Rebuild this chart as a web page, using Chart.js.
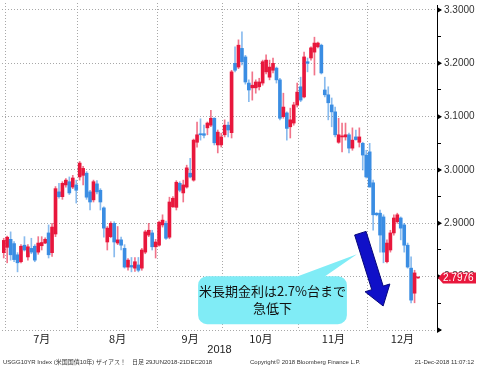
<!DOCTYPE html>
<html lang="ja">
<head>
<meta charset="utf-8">
<title>USGG10YR</title>
<script src="https://cdn.jsdelivr.net/npm/chart.js@4.4.1/dist/chart.umd.min.js"></script>
<style>
  html, body { margin: 0; padding: 0; background: #fff; overflow: hidden; }
  canvas { display: block; }
</style>
</head>
<body>
<canvas id="chart" width="477" height="368"></canvas>
<script>
'use strict';

// trading days on the axis, 29 Jun - 31 Dec 2018 (US holidays left out)
var junDays = [29];
var julDays = [2, 3, 5, 6, 9, 10, 11, 12, 13, 16, 17, 18, 19, 20, 23, 24, 25, 26, 27, 30, 31];
var augDays = [1, 2, 3, 6, 7, 8, 9, 10, 13, 14, 15, 16, 17, 20, 21, 22, 23, 24, 27, 28, 29, 30, 31];
var sepDays = [4, 5, 6, 7, 10, 11, 12, 13, 14, 17, 18, 19, 20, 21, 24, 25, 26, 27, 28];
var octDays = [1, 2, 3, 4, 5, 9, 10, 11, 12, 15, 16, 17, 18, 19, 22, 23, 24, 25, 26, 29, 30, 31];
var novDays = [1, 2, 5, 6, 7, 8, 9, 13, 14, 15, 16, 19, 20, 21, 23, 26, 27, 28, 29, 30];
var decDays = [3, 4, 5, 6, 7, 10, 11, 12, 13, 14, 17, 18, 19, 20, 21, 24, 26, 27, 28, 31];
var monthNames = ['7月', '8月', '9月', '10月', '11月', '12月'];

// daily OHLC, 29 Jun .. 21 Dec
var opens = [
  2.845,
  2.855, 2.870, 2.862, 2.841, 2.828, 2.859, 2.837, 2.853, 2.857, 2.846, 2.858, 2.863, 2.882, 2.845, 2.880, 2.959, 2.950, 2.972, 2.978, 2.968, 2.972,
  2.987, 2.990, 2.994, 2.959, 2.944, 2.974, 2.962, 2.929, 2.865, 2.875, 2.900, 2.863, 2.869, 2.853, 2.818, 2.821, 2.816, 2.822, 2.816, 2.846, 2.878, 2.882, 2.856,
  2.859, 2.897, 2.900, 2.874, 2.931, 2.930, 2.975, 2.957, 2.968, 2.994, 2.981, 3.052, 3.068, 3.068, 3.079, 3.084, 3.097, 3.047, 3.047,
  3.066, 3.084, 3.070, 3.200, 3.193, 3.228, 3.212, 3.163, 3.154, 3.154, 3.156, 3.163, 3.184, 3.174, 3.187, 3.191, 3.169, 3.100, 3.107, 3.081, 3.088, 3.122,
  3.156, 3.137, 3.203, 3.210, 3.221, 3.231, 3.234, 3.150, 3.141, 3.122, 3.109, 3.052, 3.062, 3.062, 3.066, 3.041, 3.062, 3.052, 3.050, 3.028,
  3.034, 2.976, 2.919, 2.919, 2.912, 2.828, 2.850, 2.882, 2.903, 2.910, 2.897, 2.859, 2.816, 2.769, 2.7976
];
var highs = [
  2.872,
  2.876, 2.884, 2.866, 2.845, 2.860, 2.875, 2.860, 2.872, 2.860, 2.875, 2.875, 2.873, 2.897, 2.900, 2.969, 2.975, 2.978, 2.984, 2.987, 2.990, 2.981,
  3.016, 3.007, 2.997, 2.962, 2.981, 2.980, 2.965, 2.931, 2.894, 2.903, 2.903, 2.894, 2.874, 2.860, 2.834, 2.836, 2.836, 2.836, 2.853, 2.887, 2.900, 2.887, 2.870,
  2.904, 2.916, 2.904, 2.949, 2.950, 2.980, 2.978, 2.981, 3.009, 3.022, 3.058, 3.090, 3.096, 3.084, 3.090, 3.112, 3.098, 3.075, 3.069,
  3.094, 3.090, 3.187, 3.231, 3.244, 3.259, 3.215, 3.169, 3.184, 3.169, 3.172, 3.206, 3.216, 3.206, 3.210, 3.193, 3.172, 3.144, 3.109, 3.116, 3.127, 3.163,
  3.174, 3.221, 3.210, 3.231, 3.249, 3.240, 3.236, 3.174, 3.156, 3.135, 3.118, 3.097, 3.088, 3.088, 3.069, 3.079, 3.075, 3.079, 3.052, 3.037,
  3.050, 2.981, 2.920, 2.925, 2.916, 2.869, 2.887, 2.916, 2.919, 2.912, 2.900, 2.863, 2.837, 2.812, 2.7990
];
var lows = [
  2.835,
  2.826, 2.831, 2.828, 2.809, 2.826, 2.848, 2.831, 2.843, 2.828, 2.842, 2.850, 2.862, 2.835, 2.838, 2.875, 2.947, 2.945, 2.968, 2.954, 2.965, 2.938,
  2.981, 2.972, 2.945, 2.925, 2.940, 2.955, 2.925, 2.874, 2.850, 2.873, 2.837, 2.860, 2.850, 2.816, 2.812, 2.809, 2.810, 2.809, 2.812, 2.843, 2.875, 2.850, 2.835,
  2.857, 2.893, 2.870, 2.871, 2.930, 2.925, 2.959, 2.940, 2.966, 2.985, 2.979, 3.043, 3.056, 3.060, 3.066, 3.081, 3.047, 3.032, 3.043,
  3.062, 3.062, 3.060, 3.184, 3.190, 3.197, 3.161, 3.128, 3.131, 3.144, 3.150, 3.159, 3.180, 3.169, 3.182, 3.163, 3.094, 3.097, 3.056, 3.060, 3.084, 3.118,
  3.128, 3.135, 3.184, 3.206, 3.178, 3.229, 3.180, 3.137, 3.094, 3.081, 3.062, 3.050, 3.034, 3.056, 3.032, 3.037, 3.056, 3.043, 3.000, 2.985,
  2.968, 2.887, 2.914, 2.846, 2.826, 2.826, 2.846, 2.878, 2.900, 2.869, 2.846, 2.816, 2.751, 2.751, 2.7966
];
var closes = [
  2.868,
  2.874, 2.841, 2.832, 2.826, 2.857, 2.850, 2.856, 2.846, 2.831, 2.863, 2.864, 2.870, 2.841, 2.893, 2.965, 2.950, 2.975, 2.981, 2.957, 2.985, 2.962,
  3.013, 3.003, 2.949, 2.940, 2.978, 2.959, 2.940, 2.891, 2.891, 2.900, 2.865, 2.869, 2.859, 2.818, 2.831, 2.818, 2.828, 2.812, 2.850, 2.884, 2.887, 2.856, 2.865,
  2.902, 2.906, 2.872, 2.940, 2.947, 2.977, 2.962, 2.972, 3.004, 2.987, 3.056, 3.066, 3.066, 3.065, 3.088, 3.097, 3.051, 3.071, 3.062,
  3.084, 3.075, 3.184, 3.187, 3.234, 3.203, 3.165, 3.150, 3.159, 3.165, 3.165, 3.203, 3.206, 3.193, 3.200, 3.169, 3.097, 3.118, 3.078, 3.094, 3.122, 3.146,
  3.131, 3.212, 3.200, 3.229, 3.238, 3.238, 3.182, 3.141, 3.126, 3.109, 3.066, 3.066, 3.064, 3.066, 3.041, 3.056, 3.057, 3.062, 3.028, 2.987,
  2.968, 2.916, 2.916, 2.878, 2.846, 2.863, 2.882, 2.910, 2.916, 2.891, 2.859, 2.818, 2.756, 2.807, 2.7976
];

// right axis
var yMin = 2.7;
var yMax = 3.3131;
var yMajor = [2.7, 2.8, 2.9, 3.0, 3.1, 3.2, 3.3];
var yMinor = [2.75, 2.85, 2.95, 3.05, 3.15, 3.25];
var yLabelled = [2.8, 2.9, 3.0, 3.1, 3.2, 3.3];

var calloutLines = ['米長期金利は2.7%台まで', '急低下'];
var footerLeft = 'USGG10YR Index (米国国債10年) ザイアス！　日足 29JUN2018-21DEC2018';
var footerMid = 'Copyright© 2018 Bloomberg Finance L.P.';
var footerRight = '21-Dec-2018 11:07:12';

var upColor = '#e8173c';
var downColor = '#3a8de3';
var upWick = 'rgba(232,23,60,0.6)';
var downWick = 'rgba(58,141,227,0.6)';


//
//  axis helpers
//
var monthDays = [junDays, julDays, augDays, sepDays, octDays, novDays, decDays];
var slotCount = 0;
var boundaries = [];
var centers = [];
monthDays.forEach(function(days, m) {
  var start = slotCount;
  slotCount += days.length;
  if (m > 0) {
    boundaries.push(start - 0.5);
    centers.push((start + slotCount) / 2 - 0.5);
  }
});

var isUp = function(i) { return closes[i] >= opens[i]; };
var isTick = function(v) { return yMajor.indexOf(v) >= 0 || yMinor.indexOf(v) >= 0; };


var getBodies = function() {
  return closes.map(function(c, i) { return {x: i, y: [opens[i], c]}; });
};

var getWicks = function() {
  return closes.map(function(c, i) { return {x: i, y: [lows[i], highs[i]]}; });
};


var decor = {
  id: 'decor',
  afterDraw: function(chart) {
    var ctx = chart.ctx;
    var xs = chart.scales.x;
    var ys = chart.scales.y;
    var area = chart.chartArea;
    ctx.save();

    // axis line + triangles on major ticks
    ctx.strokeStyle = '#000';
    ctx.lineWidth = 1;
    ctx.beginPath();
    ctx.moveTo(Math.round(area.right) + 0.5, area.top + 2);
    ctx.lineTo(Math.round(area.right) + 0.5, area.bottom);
    ctx.stroke();
    ctx.fillStyle = '#000';
    yMajor.forEach(function(v) {
      var py = ys.getPixelForValue(v);
      ctx.beginPath();
      ctx.moveTo(area.right, py - 3);
      ctx.lineTo(area.right + 5, py);
      ctx.lineTo(area.right, py + 3);
      ctx.fill();
    });

    // last price tag
    var last = closes[closes.length - 1];
    var ty = ys.getPixelForValue(last);
    ctx.fillStyle = upColor;
    ctx.beginPath();
    ctx.moveTo(area.right + 1, ty);
    ctx.lineTo(area.right + 6, ty - 5.5);
    ctx.lineTo(chart.width - 1, ty - 5.5);
    ctx.lineTo(chart.width - 1, ty + 5.5);
    ctx.lineTo(area.right + 6, ty + 5.5);
    ctx.closePath();
    ctx.fill();
    ctx.fillStyle = '#fff';
    ctx.font = '10px "Liberation Sans", Arial, sans-serif';
    ctx.textBaseline = 'middle';
    ctx.textAlign = 'left';
    ctx.fillText(last.toFixed(4), area.right + 6, ty + 0.5);

    // callout
    var bx0 = xs.getPixelForValue(56.3), bx1 = xs.getPixelForValue(99.4);
    var by0 = ys.getPixelForValue(2.801), by1 = ys.getPixelForValue(2.711);
    var r = 9;
    ctx.fillStyle = '#80ecf6';
    ctx.beginPath();
    ctx.moveTo(bx0 + r, by0);
    ctx.lineTo(xs.getPixelForValue(85.2), by0);
    ctx.lineTo(xs.getPixelForValue(102.3), ys.getPixelForValue(2.842));
    ctx.lineTo(xs.getPixelForValue(93.1), by0);
    ctx.arcTo(bx1, by0, bx1, by1, r);
    ctx.arcTo(bx1, by1, bx0, by1, r);
    ctx.arcTo(bx0, by1, bx0, by0, r);
    ctx.arcTo(bx0, by0, bx1, by0, r);
    ctx.closePath();
    ctx.fill();
    ctx.fillStyle = '#111';
    ctx.font = '13px "Noto Sans CJK JP", sans-serif';
    ctx.textAlign = 'center';
    var cx = (bx0 + bx1) / 2;
    ctx.fillText(calloutLines[0], cx, by0 + 15);
    ctx.fillText(calloutLines[1], cx, by0 + 32);

    // arrow
    var tx = xs.getPixelForValue(103.3), tyy = ys.getPixelForValue(2.8815);
    var px = xs.getPixelForValue(109.9), py2 = ys.getPixelForValue(2.745);
    var len = Math.hypot(px - tx, py2 - tyy);
    var dx = (px - tx) / len, dy = (py2 - tyy) / len;
    var nx = -dy, ny = dx;
    var hl = 19, hw = 13, sw = 6;
    var bx = px - dx * hl, by = py2 - dy * hl;
    ctx.fillStyle = '#1010c8';
    ctx.strokeStyle = '#06067a';
    ctx.lineWidth = 1;
    ctx.beginPath();
    ctx.moveTo(tx + nx * sw, tyy + ny * sw);
    ctx.lineTo(bx + nx * sw, by + ny * sw);
    ctx.lineTo(bx + nx * hw, by + ny * hw);
    ctx.lineTo(px, py2);
    ctx.lineTo(bx - nx * hw, by - ny * hw);
    ctx.lineTo(bx - nx * sw, by - ny * sw);
    ctx.lineTo(tx - nx * sw, tyy - ny * sw);
    ctx.closePath();
    ctx.fill();
    ctx.stroke();

    // footer
    ctx.fillStyle = '#333';
    ctx.font = '6px "Liberation Sans", "Noto Sans CJK JP", sans-serif';
    ctx.textBaseline = 'middle';
    ctx.textAlign = 'left';
    ctx.fillText(footerLeft, 3, 362);
    ctx.fillText(footerMid, 250, 362);
    ctx.textAlign = 'right';
    ctx.fillText(footerRight, chart.width - 3, 362);
    ctx.restore();
  }
};


var createConfig = function() {
  return {
    type: 'bar',
    data: {
      datasets: [{
        label: 'wick',
        data: getWicks(),
        barThickness: 1,
        grouped: false,
        order: 2,
        backgroundColor: function(c) { return isUp(c.dataIndex) ? upWick : downWick; }
      }, {
        label: 'body',
        data: getBodies(),
        barThickness: 3,
        minBarLength: 1,
        grouped: false,
        order: 1,
        backgroundColor: function(c) { return isUp(c.dataIndex) ? upColor : downColor; }
      }]
    },
    options: {
      responsive: false,
      animation: false,
      devicePixelRatio: 1,
      layout: { padding: { left: 2, top: 0, right: 0, bottom: 11 } },
      plugins: { legend: { display: false }, tooltip: { enabled: false } },
      scales: {
        x: {
          type: 'linear',
          min: -0.5,
          max: slotCount - 0.5,
          offset: false,
          grid: { offset: false, color: '#a8a8a8', drawTicks: false },
          border: { display: false, dash: [1, 2] },
          ticks: { display: false },
          afterBuildTicks: function(s) { s.ticks = boundaries.map(function(v) { return {value: v}; }); },
          afterFit: function(s) { s.height = 0; }
        },
        xm: {
          type: 'linear',
          position: 'bottom',
          min: -0.5,
          max: slotCount - 0.5,
          offset: false,
          grid: { display: false, drawTicks: false, offset: false },
          border: { display: false },
          ticks: {
            padding: 2,
            maxRotation: 0,
            autoSkip: false,
            color: '#222',
            font: { family: '"Noto Sans CJK JP", sans-serif', size: 11 },
            callback: function(v, i) { return monthNames[i]; }
          },
          afterBuildTicks: function(s) { s.ticks = centers.map(function(v) { return {value: v}; }); },
          title: {
            display: true,
            text: '2018',
            color: '#222',
            padding: 0,
            font: { family: '"Liberation Sans", Arial, sans-serif', size: 11 }
          },
          afterFit: function(s) { s.height = 27; }
        },
        y: {
          position: 'right',
          min: yMin,
          max: yMax,
          grid: {
            color: function(c) { return yMajor.indexOf(c.tick.value) >= 0 ? '#a8a8a8' : 'rgba(0,0,0,0)'; },
            tickColor: function(c) { return isTick(c.tick.value) ? '#000' : 'rgba(0,0,0,0)'; },
            tickLength: 4,
            tickBorderDash: [1, 0]
          },
          border: { display: false, dash: [1, 2] },
          ticks: {
            padding: 3,
            autoSkip: false,
            color: '#333',
            font: { family: '"Liberation Sans", Arial, sans-serif', size: 10 },
            callback: function(v) {
              if (!isTick(v)) return [];
              return yLabelled.indexOf(v) >= 0 ? v.toFixed(4) : '';
            }
          },
          afterBuildTicks: function(s) {
            s.ticks = yMajor.concat(yMinor).sort().concat([yMax]).map(function(v) { return {value: v}; });
          },
          afterFit: function(s) { s.width = 40; }
        }
      }
    },
    plugins: [decor]
  };
};


!function() {
  var canvas = document.getElementById('chart');
  new Chart(canvas, createConfig());
}();
</script>
</body>
</html>
